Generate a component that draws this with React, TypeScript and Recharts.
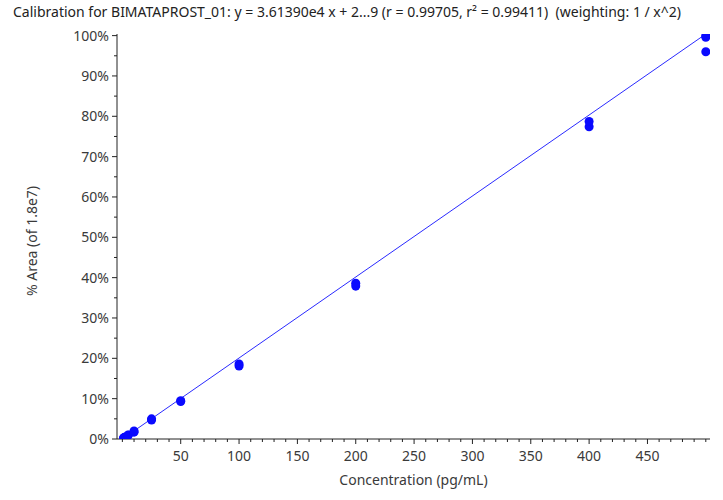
import { ComposedChart, Scatter, Line, XAxis, YAxis } from 'recharts';

const chartTitle =
  'Calibration for BIMATAPROST_01: y = 3.61390e4 x + 2...9 (r = 0.99705, r\u00B2 = 0.99411)  (weighting: 1 / x^2)';
const xLabel = 'Concentration (pg/mL)';
const yLabel = '% Area (of 1.8e7)';

// standards: concentration (pg/mL) and % area of 1.8e7
const concentration = [1, 1, 2, 2, 5, 5, 10, 10, 25, 25, 50, 50, 100, 100, 200, 200, 400, 400, 500, 500, 500];
const pctArea = [0.2, 0.25, 0.4, 0.45, 0.9, 1.0, 1.7, 2.0, 4.7, 5.0, 9.3, 9.5, 18.1, 18.6, 37.9, 38.6, 77.4, 78.7, 99.6, 100.0, 96.0];

// regression line end points
const fitX = [0, 505];
const fitY = [0, 101.4];

const xMajor = [50, 100, 150, 200, 250, 300, 350, 400, 450];
const xTicks = Array.from({ length: 51 }, (_, i) => i * 10);
const yMajor = [0, 10, 20, 30, 40, 50, 60, 70, 80, 90, 100];
const yTicks = Array.from({ length: 21 }, (_, i) => i * 5);

const points = concentration.map((c, i) => ({ x: c, y: pctArea[i] }));
const fitLine = fitX.map((x, i) => ({ x, y: fitY[i] }));

const FONT = '"Noto Sans", "Open Sans", sans-serif';
const TEXT = '#3a3a3a';
const BLUE = '#0a0aff';

function XTick({ x, y, payload }: any) {
  const major = xMajor.includes(payload.value);
  return (
    <g>
      <line x1={x} y1={y} x2={x} y2={y + (major ? 5 : 3)} stroke="#222" />
      {major && (
        <text x={x} y={y + 22} textAnchor="middle" fill={TEXT} fontSize={14} fontFamily={FONT}>
          {payload.value}
        </text>
      )}
    </g>
  );
}

function YTick({ x, y, payload }: any) {
  const major = yMajor.includes(payload.value);
  return (
    <g>
      <line x1={x} y1={y} x2={x - (major ? 5 : 3)} y2={y} stroke="#222" />
      {major && (
        <text x={x - 8} y={y + 5} textAnchor="end" fill={TEXT} fontSize={14} fontFamily={FONT}>
          {payload.value}%
        </text>
      )}
    </g>
  );
}

export default function App() {
  return (
    <div style={{ position: 'absolute', left: 0, top: 0, width: 723, height: 500, background: '#fff' }}>
      <div
        style={{
          position: 'absolute',
          left: 13,
          top: 2,
          fontFamily: FONT,
          fontSize: 14,
          color: '#222',
          whiteSpace: 'pre',
        }}
      >
        {chartTitle}
      </div>
      <ComposedChart width={723} height={500} margin={{ top: 34, right: 13, bottom: 11, left: 0 }}>
        <XAxis
          type="number"
          dataKey="x"
          domain={[-4.6, 503.6]}
          allowDataOverflow
          ticks={xTicks}
          interval={0}
          tick={<XTick />}
          tickLine={false}
          tickSize={0}
          tickMargin={0}
          height={50}
          axisLine={{ stroke: '#222' }}
          label={{
            value: xLabel,
            position: 'insideBottom',
            offset: 4,
            fill: TEXT,
            fontSize: 14,
            fontFamily: FONT,
          }}
        />
        <YAxis
          type="number"
          dataKey="y"
          domain={[0, 100.4]}
          allowDataOverflow
          ticks={yTicks}
          interval={0}
          tick={<YTick />}
          tickLine={false}
          tickSize={0}
          tickMargin={0}
          width={117}
          axisLine={{ stroke: '#222' }}
          label={{
            content: () => (
              <text
                x={31}
                y={241}
                transform="rotate(-90 31 241)"
                textAnchor="middle"
                dominantBaseline="central"
                fill={TEXT}
                fontSize={14}
                fontFamily={FONT}
              >
                {yLabel}
              </text>
            ),
          }}
        />
        <Line
          data={fitLine}
          dataKey="y"
          stroke="#2a2aff"
          strokeWidth={1}
          dot={false}
          activeDot={false}
          isAnimationActive={false}
        />
        <Scatter data={points} dataKey="y" fill={BLUE} isAnimationActive={false} />
      </ComposedChart>
    </div>
  );
}
